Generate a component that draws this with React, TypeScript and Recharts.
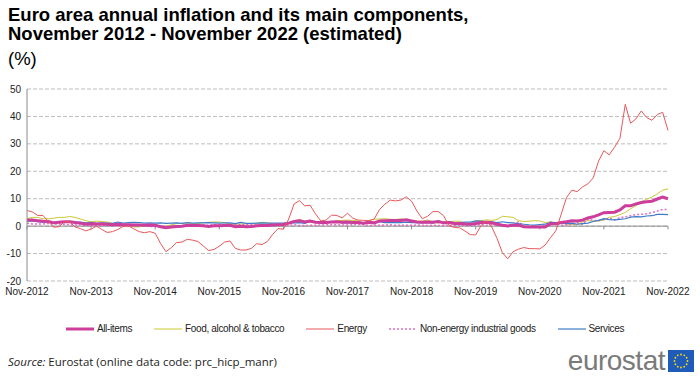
import React from 'react';
import { LineChart, Line, XAxis, YAxis, CartesianGrid, ReferenceLine } from 'recharts';

const MONTHS = ['Jan', 'Feb', 'Mar', 'Apr', 'May', 'Jun', 'Jul', 'Aug', 'Sep', 'Oct', 'Nov', 'Dec'];
const yearTicks = ['Nov-2012', 'Nov-2013', 'Nov-2014', 'Nov-2015', 'Nov-2016', 'Nov-2017', 'Nov-2018', 'Nov-2019', 'Nov-2020', 'Nov-2021', 'Nov-2022'];
const yTicks = [-20, -10, 0, 10, 20, 30, 40, 50];

const allItems = [
  2.2, 2.2,
  2.0, 1.8, 1.7, 1.2, 1.4, 1.6, 1.6, 1.3, 1.1, 0.7, 0.9, 0.8,
  0.8, 0.7, 0.5, 0.7, 0.5, 0.5, 0.4, 0.4, 0.3, 0.4, 0.3, -0.2,
  -0.6, -0.3, -0.1, 0.0, 0.3, 0.2, 0.2, 0.1, -0.1, 0.1, 0.1, 0.2,
  0.3, -0.2, 0.0, -0.2, -0.1, 0.1, 0.2, 0.2, 0.4, 0.5, 0.6, 1.1,
  1.7, 2.0, 1.5, 1.9, 1.4, 1.3, 1.3, 1.5, 1.6, 1.4, 1.5, 1.3,
  1.3, 1.1, 1.4, 1.2, 1.9, 2.0, 2.1, 2.1, 2.1, 2.3, 1.9, 1.5,
  1.4, 1.5, 1.4, 1.7, 1.2, 1.3, 1.0, 1.0, 0.8, 0.7, 1.0, 1.3,
  1.4, 1.2, 0.7, 0.3, 0.1, 0.3, 0.4, -0.2, -0.3, -0.3, -0.3, -0.3,
  0.9, 0.9, 1.3, 1.6, 2.0, 1.9, 2.2, 3.0, 3.4, 4.1, 4.9, 5.0,
  5.1, 5.9, 7.4, 7.4, 8.1, 8.6, 8.9, 9.1, 9.9, 10.6, 10.0,
];

const food = [
  2.7, 3.2,
  3.2, 2.7, 2.7, 2.9, 3.2, 3.2, 3.5, 3.2, 2.6, 2.0, 1.6, 1.8,
  1.7, 1.5, 1.0, 0.7, 0.1, 0.2, -0.3, -0.3, 0.3, 0.5, 0.5, 0.0,
  -0.1, 0.5, 0.9, 1.0, 1.2, 0.9, 0.9, 1.3, 1.4, 1.5, 1.5, 1.2,
  0.8, 0.6, 0.8, 0.8, 0.9, 0.9, 1.4, 1.3, 0.7, 0.5, 0.7, 1.2,
  1.8, 2.5, 1.8, 1.5, 1.5, 1.3, 1.4, 1.4, 1.9, 2.1, 2.2, 2.1,
  1.9, 1.0, 2.1, 2.5, 2.6, 2.7, 2.5, 2.4, 2.7, 2.3, 1.9, 1.8,
  1.8, 2.3, 1.5, 1.1, 1.6, 1.6, 1.8, 1.8, 1.0, 1.0, 1.9, 2.0,
  2.3, 2.1, 2.4, 3.6, 3.4, 3.2, 2.0, 1.7, 1.8, 2.0, 1.9, 1.3,
  1.5, 1.3, 1.1, 0.7, 0.6, 0.5, 1.6, 2.0, 1.9, 1.9, 2.2, 3.2,
  3.5, 4.2, 5.0, 6.3, 7.5, 8.9, 9.8, 10.6, 11.8, 13.1, 13.6,
];

const energy = [
  5.7, 5.2,
  3.9, 3.9, 1.7, -0.4, -0.2, 1.6, 1.6, -0.3, -0.9, -1.7, -1.1, 0.0,
  -1.2, -2.3, -2.0, -1.2, -0.1, 0.1, -1.0, -2.0, -2.4, -2.0, -2.6, -6.3,
  -9.3, -7.9, -6.0, -5.8, -4.8, -5.1, -5.6, -7.2, -8.9, -8.5, -7.3, -5.8,
  -5.4, -8.1, -8.7, -8.7, -8.1, -6.4, -6.7, -5.6, -3.0, -0.9, -1.1, 2.6,
  8.1, 9.3, 7.4, 7.6, 4.5, 1.9, 2.2, 4.0, 3.9, 3.0, 4.7, 2.9,
  2.2, 2.1, 2.0, 2.6, 6.1, 8.0, 9.5, 9.2, 9.5, 10.7, 9.1, 5.5,
  2.7, 3.6, 5.3, 5.3, 3.8, 0.2, -0.5, -0.6, -1.8, -3.1, -3.2, 0.2,
  1.9, -0.3, -4.5, -9.7, -11.9, -9.3, -8.4, -7.8, -8.2, -8.2, -8.3, -6.9,
  -4.2, -1.7, 4.3, 10.4, 13.1, 12.6, 14.3, 15.4, 17.6, 23.7, 27.5, 26.0,
  28.8, 32.0, 44.4, 37.5, 39.1, 42.0, 39.6, 38.6, 40.7, 41.5, 34.9,
];

const neig = [
  1.1, 0.8,
  0.8, 0.8, 1.0, 0.8, 0.8, 0.7, 0.4, 0.4, 0.4, 0.3, 0.2, 0.3,
  0.2, 0.4, 0.2, 0.1, 0.0, -0.1, 0.0, 0.3, 0.2, -0.1, -0.1, 0.1,
  -0.1, -0.1, 0.1, 0.2, 0.3, 0.3, 0.3, 0.4, 0.3, 0.6, 0.5, 0.5,
  0.7, 0.7, 0.5, 0.5, 0.5, 0.4, 0.4, 0.3, 0.3, 0.3, 0.3, 0.3,
  0.5, 0.2, 0.2, 0.3, 0.3, 0.4, 0.5, 0.5, 0.5, 0.4, 0.4, 0.5,
  0.7, 0.6, 0.2, 0.3, 0.3, 0.4, 0.5, 0.3, 0.3, 0.3, 0.3, 0.4,
  0.3, 0.2, 0.3, 0.2, 0.3, 0.2, 0.3, 0.3, 0.3, 0.3, 0.4, 0.5,
  0.3, 0.5, 0.5, 0.3, 0.2, 0.2, 1.6, -0.1, -0.3, -0.1, -0.3, 0.5,
  1.5, 1.0, 0.3, 0.4, 0.7, 1.2, 0.7, 2.6, 2.1, 2.0, 2.4, 2.9,
  2.3, 3.1, 3.4, 3.8, 4.2, 4.3, 4.5, 5.0, 5.5, 6.1, 6.1,
];

const services = [
  1.8, 1.8,
  1.6, 1.5, 1.8, 1.1, 1.5, 1.4, 1.4, 1.4, 1.5, 1.2, 1.4, 1.0,
  1.2, 1.1, 1.0, 1.5, 1.1, 1.3, 1.4, 1.3, 1.1, 1.2, 1.1, 1.2,
  1.0, 1.1, 1.2, 1.0, 1.3, 1.1, 1.2, 1.2, 1.3, 1.2, 1.1, 1.2,
  1.2, 0.9, 1.4, 1.0, 1.0, 1.1, 1.2, 1.1, 1.1, 1.1, 1.1, 1.3,
  1.2, 1.3, 1.0, 1.8, 1.3, 1.6, 1.6, 1.6, 1.5, 1.2, 1.2, 1.2,
  1.2, 1.3, 1.5, 1.0, 1.6, 1.3, 1.4, 1.3, 1.3, 1.5, 1.3, 1.3,
  1.2, 1.4, 1.1, 1.9, 1.0, 1.6, 1.3, 1.3, 1.5, 1.5, 1.9, 1.8,
  1.5, 1.6, 1.3, 1.6, 1.3, 1.2, 0.9, 0.7, 0.5, 0.4, 0.6, 0.7,
  1.4, 1.3, 1.3, 0.9, 1.1, 0.7, 0.9, 1.1, 1.7, 2.1, 2.7, 2.4,
  2.3, 2.5, 2.7, 3.3, 3.5, 3.4, 3.7, 3.8, 4.3, 4.3, 4.2,
];

const months: string[] = [];
for (let y = 2012; y <= 2022; y++) {
  for (let m = 0; m < 12; m++) {
    if ((y === 2012 && m < 10) || (y === 2022 && m > 10)) continue;
    months.push(`${MONTHS[m]}-${y}`);
  }
}

const data = months.map((month, i) => ({
  month,
  allItems: allItems[i],
  food: food[i],
  energy: energy[i],
  neig: neig[i],
  services: services[i],
}));

const series = [
  { key: 'allItems', name: 'All-items', color: '#CC3D9C', width: 3, dash: undefined as string | undefined },
  { key: 'food', name: 'Food, alcohol & tobacco', color: '#C9C935', width: 1, dash: undefined },
  { key: 'energy', name: 'Energy', color: '#E8575A', width: 1, dash: undefined },
  { key: 'neig', name: 'Non-energy industrial goods', color: '#E070C4', width: 1.5, dash: '2 2' },
  { key: 'services', name: 'Services', color: '#3D7CC9', width: 1.2, dash: undefined },
];

const drawOrder = ['food', 'neig', 'services', 'allItems', 'energy'];

const FONT = '"Liberation Sans", Arial, sans-serif';

const Flag = () => {
  const stars = Array.from({ length: 12 }, (_, i) => {
    const a = (i / 12) * Math.PI * 2;
    return <circle key={i} cx={13 + 6.5 * Math.cos(a)} cy={11 + 6.5 * Math.sin(a)} r={0.9} fill="#FFDD00" />;
  });
  return (
    <svg width={26} height={22} style={{ display: 'block' }}>
      <rect x={0} y={0} width={26} height={22} fill="#1F5BB8" />
      {stars}
    </svg>
  );
};

export default function App() {
  return (
    <div style={{ position: 'fixed', left: 0, top: 0, width: 700, height: 384, background: '#fff', fontFamily: FONT, overflow: 'hidden' }}>
      <div style={{ position: 'absolute', left: 8, top: 5, fontSize: 18.5, fontWeight: 'bold', lineHeight: '19px', color: '#000', whiteSpace: 'nowrap' }}>
        Euro area annual inflation and its main components,
        <br />
        November 2012 - November 2022 (estimated)
      </div>
      <div style={{ position: 'absolute', left: 8, top: 48, fontSize: 18.5, color: '#000' }}>(%)</div>

      <LineChart
        width={700}
        height={384}
        data={data}
        margin={{ top: 89, right: 32, bottom: 83, left: 0 }}
        style={{ position: 'absolute', left: 0, top: 0 }}
      >
        <CartesianGrid vertical={false} stroke="#BDBDBD" strokeDasharray="4 2" />
        <XAxis
          dataKey="month"
          interval={11}
          height={20}
          tickLine={false}
          axisLine={false}
          tickSize={5}
          tickMargin={2}
          tick={{ fontSize: 10, fill: '#222', fontFamily: FONT }}
        />
        <YAxis
          domain={[-20, 50]}
          ticks={yTicks}
          width={27}
          tickLine={false}
          axisLine={{ stroke: '#8C8C8C' }}
          tickSize={4}
          tickMargin={2}
          tick={{ fontSize: 10, fill: '#222', fontFamily: FONT }}
        />
        <ReferenceLine y={0} stroke="#8C8C8C" strokeWidth={1} />
        {yearTicks.map((t) => (
          <ReferenceLine key={t} segment={[{ x: t, y: 0 }, { x: t, y: -1.2 }]} stroke="#8C8C8C" />
        ))}
        {drawOrder.map((k) => {
          const s = series.find((x) => x.key === k)!;
          return (
            <Line
              key={s.key}
              type="linear"
              dataKey={s.key}
              name={s.name}
              stroke={s.color}
              strokeWidth={s.width}
              strokeDasharray={s.dash}
              dot={false}
              activeDot={false}
              isAnimationActive={false}
            />
          );
        })}
      </LineChart>

      <div style={{ position: 'absolute', left: 0, width: 690, top: 323, display: 'flex', justifyContent: 'center', alignItems: 'center', gap: 22 }}>
        {series.map((s) => (
          <div key={s.key} style={{ display: 'flex', alignItems: 'center', gap: 3 }}>
            <svg width={28} height={10} style={{ display: 'block' }}>
              <line x1={0} y1={5} x2={28} y2={5} stroke={s.color} strokeWidth={s.width} strokeDasharray={s.dash} />
            </svg>
            <span style={{ fontFamily: FONT, fontSize: 10, letterSpacing: -0.35, color: '#222' }}>{s.name}</span>
          </div>
        ))}
      </div>

      <div style={{ position: 'absolute', left: 8, top: 354, fontFamily: '"Open Sans", sans-serif', fontSize: 11.5, color: '#222', whiteSpace: 'nowrap' }}>
        <i>Source:</i> Eurostat (online data code: prc_hicp_manr)
      </div>

      <div style={{ position: 'absolute', right: 6, top: 346, display: 'flex', alignItems: 'center', gap: 3 }}>
        <span style={{ fontFamily: FONT, fontSize: 28, color: '#7A7A7A', letterSpacing: -0.5, lineHeight: '30px' }}>eurostat</span>
        <Flag />
      </div>
    </div>
  );
}
